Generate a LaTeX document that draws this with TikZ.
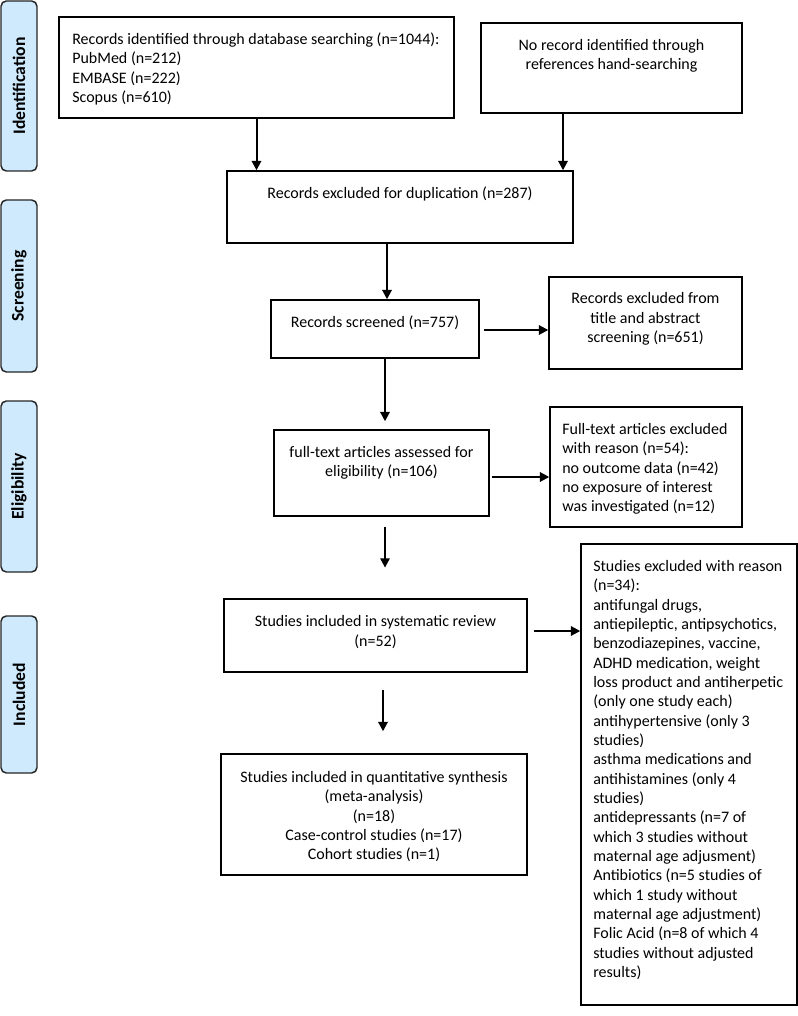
\documentclass[tikz,border=0pt]{standalone}
\usepackage{fontspec}
\setmainfont{Carlito}
\usetikzlibrary{arrows.meta,fit}
\definecolor{sidefill}{RGB}{206,234,252}
\begin{document}
\begin{tikzpicture}[x=0.75pt,y=-0.75pt,
  box/.style={draw=black, line width=1.1pt, inner sep=0pt},
  side/.style={draw=black!85, line width=1.1pt, fill=sidefill, rounded corners=4pt, inner sep=0pt},
  sidetxt/.style={font=\fontsize{13.2}{15}\selectfont\bfseries, rotate=90, inner sep=0pt},
  txt/.style={font=\fontsize{12}{14.5}\selectfont, inner sep=0pt, align=center},
  ltxt/.style={font=\fontsize{12}{14.5}\selectfont, inner sep=0pt, align=left, anchor=west},
  arr/.style={line width=1.5pt, -{Triangle[length=7pt,width=7pt]}}]
\useasboundingbox (0,0) rectangle (798,1016);

% phase boxes
\node[side, fit={(1,1)(37,171)}] (s1) {};
\node[sidetxt] (s1t) at (s1.center) {Identification};
\node[side, fit={(1,200)(37,372)}] (s2) {};
\node[sidetxt] (s2t) at (s2.center) {Screening};
\node[side, fit={(1,401)(37,572)}] (s3) {};
\node[sidetxt] (s3t) at (s3.center) {Eligibility};
\node[side, fit={(1,616)(37,773)}] (s4) {};
\node[sidetxt] (s4t) at (s4.center) {Included};

% boxes
\node[box, fit={(59,17)(454,118)}] (b1) {};
\node[ltxt] (t1) at (72,69) {Records identified through database searching (n=1044):\\PubMed (n=212)\\EMBASE (n=222)\\Scopus (n=610)};

\node[box, fit={(481,23)(742,113)}] (b2) {};
\node[txt] (t2) at (611.5,55.5) {No record identified through\\references hand-searching};

\node[box, fit={(227,171)(573,243)}] (b3) {};
\node[txt] (t3) at (400,194) {Records excluded for duplication (n=287)};

\node[box, fit={(271,300)(479,358)}] (b4) {};
\node[txt] (t4) at (375,323) {Records screened (n=757)};

\node[box, fit={(549,277)(742,369)}] (b6) {};
\node[txt] (t6) at (645.5,319) {Records excluded from\\title and abstract\\screening (n=651)};

\node[box, fit={(274,430)(489,516)}] (b5) {};
\node[txt] (t5) at (381.5,463) {full-text articles assessed for\\eligibility (n=106)};

\node[box, fit={(550,407)(742,527)}] (b7) {};
\node[ltxt] (t7) at (562,469) {Full-text articles excluded\\with reason (n=54):\\no outcome data (n=42)\\no exposure of interest\\was investigated (n=12)};

\node[box, fit={(224,599)(527,672)}] (b8) {};
\node[txt] (t8) at (375.5,632) {Studies included in systematic review\\(n=52)};

\node[box, fit={(221,754)(527,875)}] (b10) {};
\node[txt] (t10) at (374,816.6) {Studies included in quantitative synthesis\\(meta-analysis)\\(n=18)\\Case-control studies (n=17)\\Cohort studies (n=1)};

\node[box, fit={(581,544)(797,1005)}] (b9) {};
\node[ltxt] (t9) at (593,770) {Studies excluded with reason\\(n=34):\\antifungal drugs,\\antiepileptic, antipsychotics,\\benzodiazepines, vaccine,\\ADHD medication, weight\\loss product and antiherpetic\\(only one study each)\\antihypertensive (only 3\\studies)\\asthma medications and\\antihistamines (only 4\\studies)\\antidepressants (n=7 of\\which 3 studies without\\maternal age adjusment)\\Antibiotics (n=5 studies of\\which 1 study without\\maternal age adjustment)\\Folic Acid (n=8 of which 4\\studies without adjusted\\results)};

% helper coordinates
\coordinate (x563) at (563,0);
\coordinate (x387) at (387,0);
\coordinate (x385) at (385,0);
\coordinate (x383) at (383,0);
\coordinate (y330) at (0,330);
\coordinate (y477) at (0,477);
\coordinate (y631) at (0,631);

% connectors
\draw[arr] (b1.south) -- (b1.south |- b3.north);
\draw[arr] (x563 |- b2.south) -- (x563 |- b3.north);
\draw[arr] (x387 |- b3.south) -- (x387 |- b4.north);
\draw[arr, shorten >=6pt] (x385 |- b4.south) -- (x385 |- b5.north);
\draw[arr, shorten <=3pt] (b4.east |- y330) -- (b6.west |- y330);
\draw[arr, shorten <=1.5pt] (b5.east |- y477) -- (b7.west |- y477);
\draw[arr, shorten <=7.5pt, shorten >=23pt] (x385 |- b5.south) -- (x385 |- b8.north);
\draw[arr, shorten <=4.5pt] (b8.east |- y631) -- (b9.west |- y631);
\draw[arr, shorten <=12.7pt, shorten >=16.5pt] (x383 |- b8.south) -- (x383 |- b10.north);
\end{tikzpicture}
\end{document}
